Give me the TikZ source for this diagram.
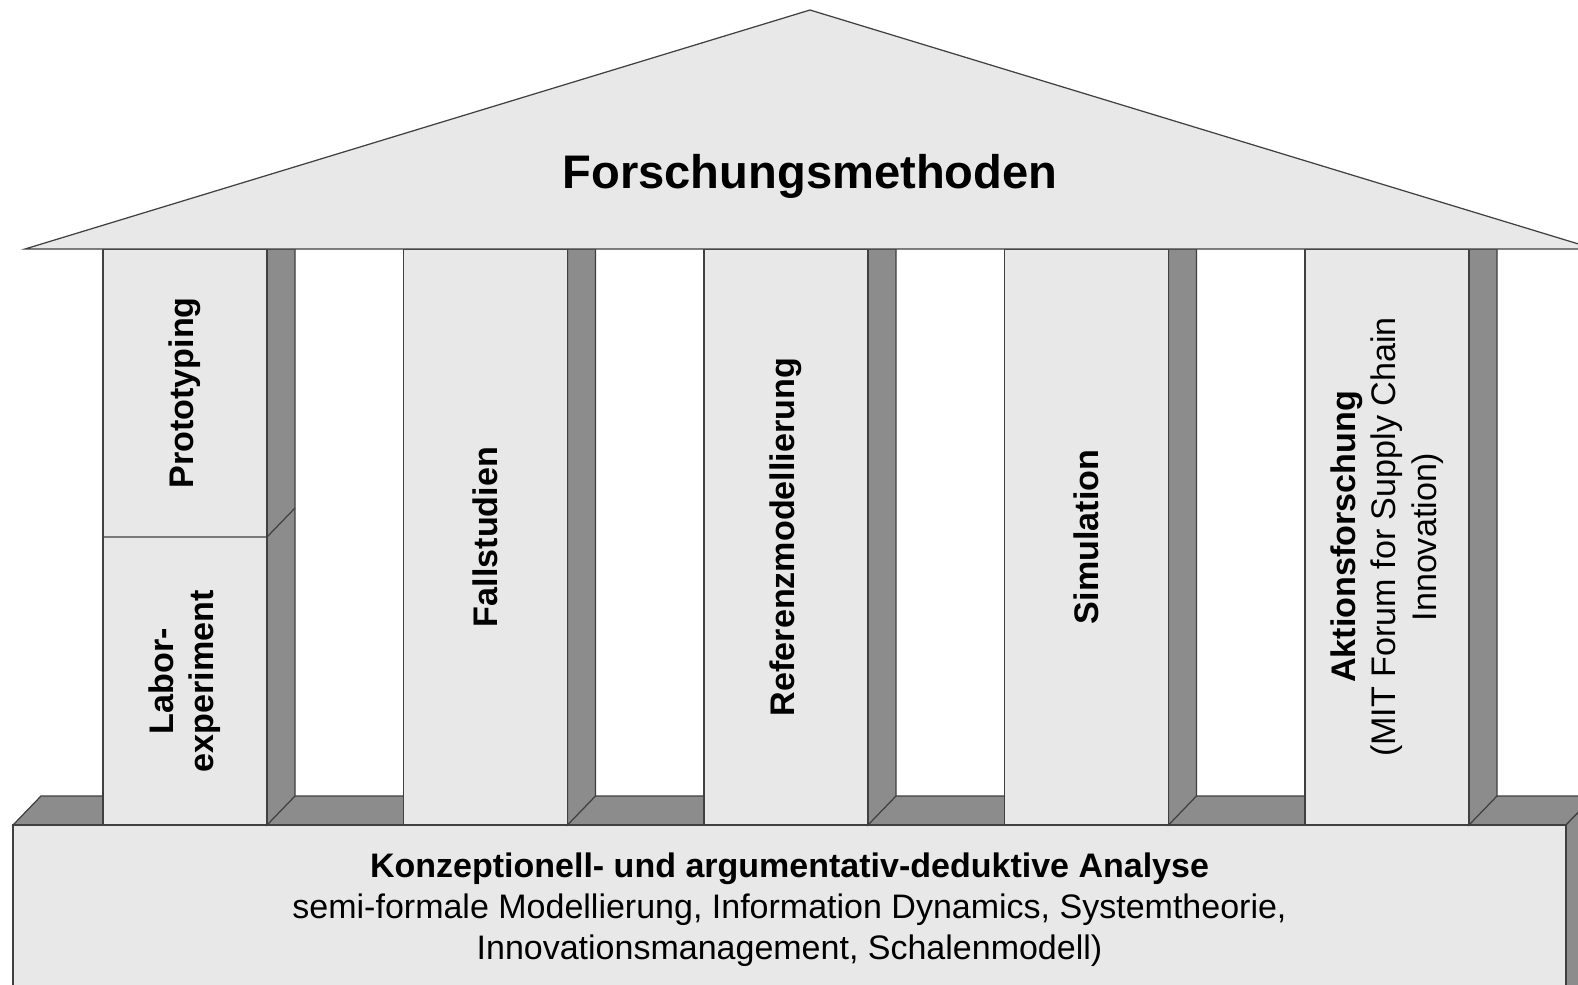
\documentclass[tikz,border=0pt]{standalone}
\usepackage{fontspec}
\setmainfont{Liberation Sans}

\definecolor{hell}{gray}{0.91}
\definecolor{dunkel}{gray}{0.55}
\definecolor{linie}{gray}{0.25}

\tikzset{
  flaeche/.style={fill=hell, draw=linie, line width=0.35pt},
  seite/.style={fill=dunkel, draw=linie, line width=0.35pt},
  saeule/.style={rotate=90, align=center, font=\fontsize{9.7}{11.45}\selectfont}
}

\begin{document}
\begin{tikzpicture}[x=0.01cm, y=-0.01cm]

\useasboundingbox (0,0) rectangle (1578,984);
\clip (0,0) rectangle (1578,984);
\fill[white] (0,0) rectangle (1578,984);

% Sockel
\draw[seite] (13,825) -- (41,796) -- (1594,796) -- (1566,825) -- cycle;
\draw[seite] (1566,825) -- (1594,796) -- (1594,1000) -- (1566,1000) -- cycle;
\draw[flaeche] (13,825) rectangle (1566,1000);

% Saeulen
\foreach \x in {103,403.5,704,1004.5,1305} {
  \draw[seite] (\x+164,249) -- (\x+192,249) -- (\x+192,796) -- (\x+164,825) -- cycle;
  \draw[flaeche] (\x,249) rectangle (\x+164,825);
}
\draw[draw=linie, line width=0.35pt] (103,537) -- (267,537) -- (295,508); % Trennung

% Dach
\draw[flaeche] (25,249) -- (810,10) -- (1595,249) -- cycle;

\node[font=\fontsize{13.4}{16}\selectfont\bfseries] (titel) at (810,176) {Forschungsmethoden};

\node[saeule] (proto) at (185,393) {\textbf{Prototyping}};
\node[saeule] (labor) at (185,681) {\textbf{Labor-}\\\textbf{experiment}};
\node[saeule] (fall) at (485.5,537) {\textbf{Fallstudien}};
\node[saeule] (referenz) at (786,537) {\textbf{Referenzmodellierung}};
\node[saeule] (sim) at (1086.5,537) {\textbf{Simulation}};
\node[saeule] (aktion) at (1387,537) {\textbf{Aktionsforschung}\\(MIT Forum for Supply Chain\\Innovation)};

\node[align=center, font=\fontsize{9.67}{11.7}\selectfont] (basis) at (789.5,910)
  {\textbf{Konzeptionell- und argumentativ-deduktive Analyse}\\
   semi-formale Modellierung, Information Dynamics, Systemtheorie,\\
   Innovationsmanagement, Schalenmodell)};

\end{tikzpicture}
\end{document}
